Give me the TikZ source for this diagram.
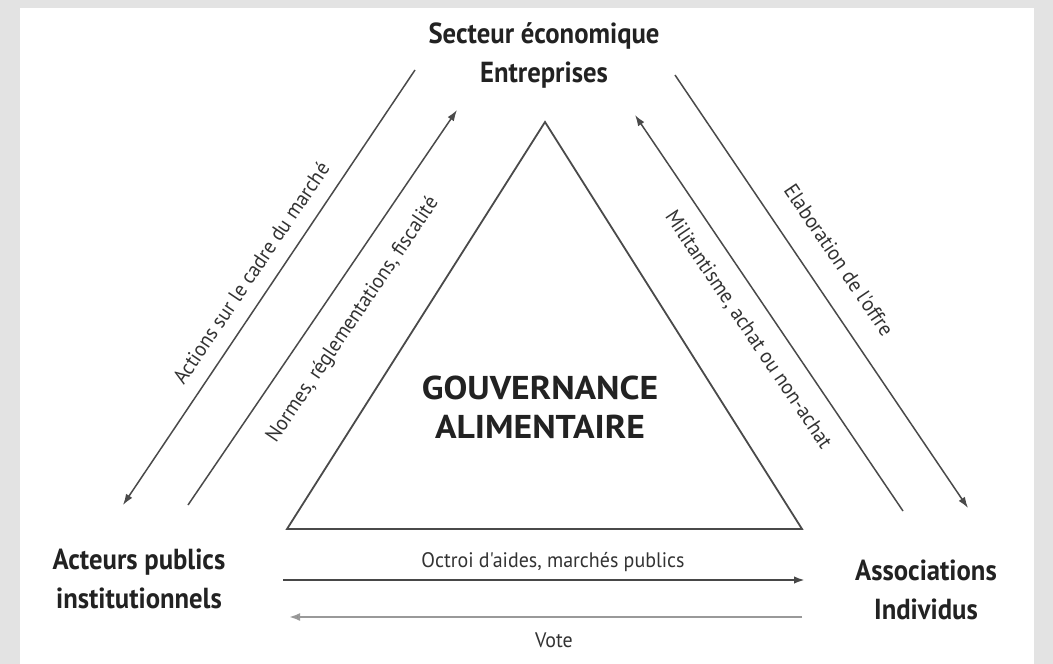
\documentclass[tikz,border=0pt]{standalone}
\usepackage{fontspec}
\usetikzlibrary{arrows.meta}
\newfontfamily\condf[FakeStretch=0.92]{PT Sans}
\newfontfamily\labf[FakeStretch=0.95]{PT Sans}
\newfontfamily\govf[FakeStretch=1.08]{PT Sans}
\definecolor{frame}{HTML}{E3E3E3}
\definecolor{ink}{HTML}{222222}
\definecolor{lineg}{HTML}{4A4A4A}
\definecolor{labg}{HTML}{333333}
\tikzset{
  bigl/.style={font=\condf\bfseries\fontsize{29}{39}\selectfont, align=center, text=ink, inner sep=0pt},
  govl/.style={font=\govf\bfseries\fontsize{33}{39}\selectfont, align=center, text=ink, inner sep=0pt},
  lab/.style={font=\labf\fontsize{21}{24}\selectfont, text=labg, inner sep=0pt},
  diag/.style={draw=lineg, line width=1.5pt},
  tip/.style={-{Latex[length=11pt,width=7.5pt]}},
}
\begin{document}
\begin{tikzpicture}[x=1pt,y=-1pt]
\useasboundingbox (0,0) rectangle (1053,664);
\fill[frame] (0,0) rectangle (1053,664);
\fill[white] (20,8) rectangle (1034,664);
% nodes
\node[bigl] (sec) at (544,55) {Secteur économique\\Entreprises};
\node[bigl] (act) at (139,579) {Acteurs publics\\institutionnels};
\node[bigl] (asso) at (926,590) {Associations\\Individus};
\node[govl] (gov) at (540,407) {GOUVERNANCE\\ALIMENTAIRE};
% triangle
\coordinate (tA) at (545,122);
\coordinate (tL) at (287,529);
\coordinate (tR) at (802,529);
\draw[draw=lineg, line width=1.8pt, line join=miter] (tA) -- (tL) -- (tR) -- cycle;
% arrow end points
\coordinate (a1s) at (415,70);  \coordinate (a1e) at (123,505);
\coordinate (a2s) at (188,505); \coordinate (a2e) at (457,110);
\coordinate (a3s) at (675,75);  \coordinate (a3e) at (968,508);
\coordinate (a4s) at (903,511); \coordinate (a4e) at (635,115);
\coordinate (a5s) at (283,580); \coordinate (a5e) at (805,580);
\coordinate (a6s) at (802,617); \coordinate (a6e) at (289,617);
\draw[diag, tip] (a1s) -- (a1e);
\draw[diag, tip] (a2s) -- (a2e);
\draw[diag, tip] (a3s) -- (a3e);
\draw[diag, tip] (a4s) -- (a4e);
\draw[draw=black!72, line width=2.4pt, tip] (a5s) -- (a5e);
\draw[draw=black!40, line width=2.2pt, -{Latex[length=11pt,width=8pt,fill=black!75]}] (a6s) -- (a6e);
% labels
\node[lab, rotate=56] (l1) at (251,273) {Actions sur le cadre du marché};
\node[lab, rotate=56] (l2) at (353,320) {Normes, réglementations, fiscalité};
\node[lab, rotate=-56] (l3) at (839,260) {Elaboration de l'offre};
\node[lab, rotate=-56] (l4) at (748,330) {Militantisme, achat ou non-achat};
\node[lab, anchor=base] (l5) at (553,567) {Octroi d'aides, marchés publics};
\node[lab, anchor=base] (l6) at (554,647) {Vote};
\end{tikzpicture}
\end{document}
